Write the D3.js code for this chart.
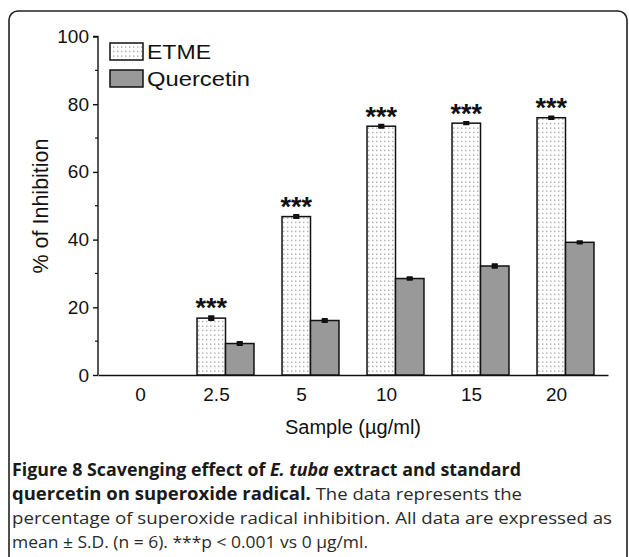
<!DOCTYPE html>
<html><head><meta charset="utf-8">
<script src="https://cdn.jsdelivr.net/npm/d3@7"></script>
<style>body{margin:0;background:#fff}svg{display:block}</style>
</head><body><svg id="c" width="629" height="557"></svg>
<script>
const categories = ["0", "2.5", "5", "10", "15", "20"];
const seriesNames = ["ETME", "Quercetin"];
const etme = [0, 16.8, 46.8, 73.5, 74.4, 76.0];
const etmeErr = [0, 0.6, 0.5, 0.5, 0.4, 0.4];
const quercetin = [0, 9.3, 16.1, 28.5, 32.2, 39.2];
const quercetinErr = [0, 0.5, 0.5, 0.4, 0.6, 0.4];
const signif = ["", "***", "***", "***", "***", "***"];
const yTicks = [0, 20, 40, 60, 80, 100];
const yMinor = [10, 30, 50, 70, 90];

const svg = d3.select("#c");
const defs = svg.append("defs");
const pat = defs.append("pattern").attr("id", "dots").attr("patternUnits", "userSpaceOnUse")
  .attr("width", 4).attr("height", 4.5);
pat.append("rect").attr("width", 4).attr("height", 4.5).attr("fill", "#fff");
pat.append("rect").attr("x", 1).attr("y", 1.5).attr("width", 1.4).attr("height", 1.2).attr("fill", "#9a9a9a");

// frame
svg.append("rect").attr("x", 9).attr("y", 11).attr("width", 618).attr("height", 600)
  .attr("rx", 9).attr("fill", "none").attr("stroke", "#222").attr("stroke-width", 1.6);

const x0 = d3.scaleBand().domain(categories).range([98, 608]).paddingInner(0.33).paddingOuter(0.165);
const x1 = d3.scaleBand().domain(seriesNames).range([0, x0.bandwidth()]);
const y = d3.scaleLinear().domain([0, 100]).range([375, 36.5]);

const font = "Arial, 'Liberation Sans', sans-serif";

// y axis
const yAxis = d3.axisLeft(y).tickValues(yTicks).tickSize(5).tickPadding(4).tickFormat(d3.format("d"));
const gy = svg.append("g").attr("transform", "translate(98,0)").call(yAxis);
gy.select(".domain").attr("stroke", "#111").attr("stroke-width", 1.4).attr("d", `M-5,${y(100)}H0V${y(0)}`);
gy.selectAll(".tick line").attr("stroke", "#111").attr("stroke-width", 1.4);
gy.selectAll(".tick text").attr("font-family", font).attr("font-size", 19).attr("fill", "#111");
gy.selectAll(".minor").data(yMinor).enter().append("line").attr("class", "minor")
  .attr("x1", -3).attr("x2", 0).attr("y1", d => y(d)).attr("y2", d => y(d))
  .attr("stroke", "#111").attr("stroke-width", 1.2);

// x axis
const xAxis = d3.axisBottom(x0).tickSize(0).tickPadding(13);
const gx = svg.append("g").attr("transform", "translate(0,375)").call(xAxis);
gx.select(".domain").attr("stroke", "#111").attr("stroke-width", 1.4);
gx.selectAll(".tick text").attr("font-family", font).attr("font-size", 19).attr("fill", "#111")
  .attr("dx", (d, i) => i === 0 ? 0 : -9);

// bars
const groups = svg.append("g").selectAll("g").data(categories).enter().append("g")
  .attr("transform", d => `translate(${x0(d)},0)`);
const bw = x1.bandwidth();
groups.each(function(c, i) {
  const g = d3.select(this);
  const vals = [
    {s: "ETME", v: etme[i], e: etmeErr[i], fill: "url(#dots)"},
    {s: "Quercetin", v: quercetin[i], e: quercetinErr[i], fill: "#999999"}
  ];
  vals.forEach(o => {
    if (o.v <= 0) return;
    const xx = x1(o.s);
    g.append("rect").attr("x", xx).attr("y", y(o.v)).attr("width", bw).attr("height", y(0) - y(o.v))
      .attr("fill", o.fill).attr("stroke", "#111").attr("stroke-width", 1.5);
    const cx = xx + bw / 2;
    g.append("path").attr("d", `M${cx - 3},${y(o.v + o.e)}H${cx + 3}M${cx - 3},${y(o.v - o.e)}H${cx + 3}M${cx},${y(o.v + o.e)}V${y(o.v - o.e)}`)
      .attr("stroke", "#111").attr("stroke-width", 1.6).attr("fill", "none");
    g.append("rect").attr("x", cx - 3).attr("y", y(o.v + o.e)).attr("width", 6).attr("height", Math.max(2, y(o.v - o.e) - y(o.v + o.e)))
      .attr("fill", "#111");
  });
  if (signif[i]) {
    g.append("text").attr("x", x1("ETME") + bw / 2).attr("y", y(etme[i] + etmeErr[i]) + 1)
      .attr("text-anchor", "middle").attr("font-family", font).attr("font-weight", "bold")
      .attr("font-size", 27).attr("fill", "#111").text(signif[i]);
  }
});

// legend
const leg = svg.append("g");
const legW = [64, 103];
seriesNames.forEach((s, i) => {
  const yy = 43 + i * 27;
  leg.append("rect").attr("x", 110).attr("y", yy).attr("width", 33).attr("height", 17)
    .attr("fill", i === 0 ? "url(#dots)" : "#999999").attr("stroke", "#111").attr("stroke-width", 1.5);
  leg.append("text").attr("x", 147).attr("y", yy + 16).attr("font-family", font).attr("font-size", 21)
    .attr("textLength", legW[i]).attr("lengthAdjust", "spacingAndGlyphs")
    .attr("fill", "#111").text(s);
});

// axis titles
svg.append("text").attr("transform", "translate(48,206) rotate(-90)").attr("text-anchor", "middle")
  .attr("font-family", font).attr("font-size", 21.5).attr("fill", "#111").text("% of Inhibition");
svg.append("text").attr("x", 353).attr("y", 434).attr("text-anchor", "middle")
  .attr("font-family", font).attr("font-size", 20).attr("fill", "#111").text("Sample (µg/ml)");

// caption
const cf = "'Open Sans', 'Noto Sans', sans-serif";
const cap = svg.append("g").attr("font-family", cf).attr("fill", "#2a2a2a").attr("font-size", 17);
const l1 = cap.append("text").attr("x", 12).attr("y", 476).attr("font-weight", "bold").attr("fill", "#1a1a1a")
  .attr("textLength", 509).attr("lengthAdjust", "spacingAndGlyphs");
l1.append("tspan").text("Figure 8 Scavenging effect of ");
l1.append("tspan").attr("font-style", "italic").text("E. tuba");
l1.append("tspan").text(" extract and standard");
const l2 = cap.append("text").attr("x", 12).attr("y", 500).attr("textLength", 510).attr("lengthAdjust", "spacingAndGlyphs");
l2.append("tspan").attr("font-weight", "bold").attr("fill", "#1a1a1a").text("quercetin on superoxide radical.");
l2.append("tspan").text(" The data represents the");
cap.append("text").attr("x", 12).attr("y", 524).attr("textLength", 600).attr("lengthAdjust", "spacingAndGlyphs")
  .text("percentage of superoxide radical inhibition. All data are expressed as");
cap.append("text").attr("x", 12).attr("y", 548).attr("textLength", 356).attr("lengthAdjust", "spacingAndGlyphs")
  .text("mean ± S.D. (n = 6). ***p < 0.001 vs 0 µg/ml.");
</script></body></html>
